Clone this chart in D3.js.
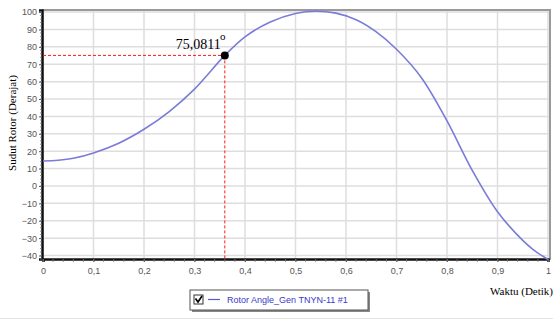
<!DOCTYPE html>
<html><head><meta charset="utf-8">
<script src="https://cdn.jsdelivr.net/npm/d3@7"></script>
<style>body{margin:0;background:#fff}svg{display:block}</style>
</head><body>
<script>
const timeValues = [0, 0.03, 0.06, 0.1, 0.15, 0.2, 0.25, 0.3, 0.36, 0.4, 0.45, 0.5, 0.54, 0.58, 0.62, 0.66, 0.7, 0.75, 0.8, 0.85, 0.9, 0.95, 0.97, 1.0];
const angleValues = [14.4, 14.8, 15.9, 19.0, 24.6, 32.6, 42.8, 55.7, 75.08, 85.8, 94.3, 99.2, 100.5, 99.4, 95.6, 88.6, 78.6, 62.0, 37.4, 9.0, -14.8, -31.3, -36.4, -42.3];
const xTicks = [0, 0.1, 0.2, 0.3, 0.4, 0.5, 0.6, 0.7, 0.8, 0.9, 1];
const yTicks = [-40, -30, -20, -10, 0, 10, 20, 30, 40, 50, 60, 70, 80, 90, 100];
const markerT = [0.36];
const markerV = [75.0811];
const markerLabel = ["75,0811"];
const seriesName = ["Rotor Angle_Gen TNYN-11 #1"];

const W = 553, H = 320;
const svg = d3.select("body").append("svg").attr("width", W).attr("height", H);
const x = d3.scaleLinear().domain([0, 1]).range([43, 548]);
const y = d3.scaleLinear().domain([-42, 101.2]).range([259, 10]);
const fmt = d => d === 0 ? "0" : (d === 1 ? "1" : String(d).replace(".", ","));

// grid
svg.append("g").selectAll("line").data(yTicks).join("line")
  .attr("x1", 43).attr("x2", 550).attr("y1", d => y(d)).attr("y2", d => y(d))
  .attr("stroke", "#dedede").attr("stroke-width", 1.5);
svg.append("g").selectAll("line").data(xTicks).join("line")
  .attr("x1", d => x(d)).attr("x2", d => x(d)).attr("y1", 10).attr("y2", 259)
  .attr("stroke", "#dedede").attr("stroke-width", 1.5);

// frame (top/right)
svg.append("line").attr("x1", 42).attr("x2", 551).attr("y1", 10).attr("y2", 10).attr("stroke", "#9a9a9a").attr("stroke-width", 2);
svg.append("line").attr("x1", 550).attr("x2", 550).attr("y1", 10).attr("y2", 260).attr("stroke", "#9a9a9a").attr("stroke-width", 2);

// axes
const yAxis = d3.axisLeft(y).tickValues(yTicks).tickSize(3).tickFormat(d3.format("d"));
const gy = svg.append("g").attr("transform", "translate(42,0)").call(yAxis);
gy.select(".domain").attr("stroke", "#111").attr("stroke-width", 2.5);
gy.selectAll(".tick line").attr("stroke", "#555");
gy.selectAll("text").attr("font-family", "Liberation Sans, Arial, sans-serif").attr("font-size", 9).attr("fill", "#555").attr("x", -5);
const yMinor = d3.range(-42, 101, 2);
svg.append("g").selectAll("line").data(yMinor).join("line")
  .attr("x1", 40).attr("x2", 42).attr("y1", d => y(d)).attr("y2", d => y(d)).attr("stroke", "#777").attr("stroke-width", 0.8);

const xAxis = d3.axisBottom(x).tickValues(xTicks).tickSize(3).tickFormat(fmt);
const gx = svg.append("g").attr("transform", "translate(0,259)").call(xAxis);
gx.select(".domain").attr("stroke", "#111").attr("stroke-width", 2.5);
gx.selectAll(".tick line").attr("stroke", "#555");
gx.selectAll("text").attr("font-family", "Liberation Sans, Arial, sans-serif").attr("font-size", 9).attr("fill", "#555").attr("y", 9);
const xMinor = d3.range(0, 1.0001, 0.02);
svg.append("g").selectAll("line").data(xMinor).join("line")
  .attr("x1", d => x(d)).attr("x2", d => x(d)).attr("y1", 259).attr("y2", 262).attr("stroke", "#777").attr("stroke-width", 0.8);

// curve
const data = timeValues.map((t, i) => ({t, v: angleValues[i]}));
svg.append("path").datum(data)
  .attr("d", d3.line().x(d => x(d.t)).y(d => y(d.v)).curve(d3.curveCatmullRom.alpha(0.5)))
  .attr("fill", "none").attr("stroke", "#7b7bd8").attr("stroke-width", 1.6);

// marker
markerT.forEach((t, i) => {
  const px = x(t), py = y(markerV[i]);
  svg.append("line").attr("x1", 43).attr("x2", px).attr("y1", py).attr("y2", py)
    .attr("stroke", "#ff1a1a").attr("stroke-width", 1).attr("stroke-dasharray", "3,2");
  svg.append("line").attr("x1", px).attr("x2", px).attr("y1", py).attr("y2", 258)
    .attr("stroke", "#ff1a1a").attr("stroke-width", 1).attr("stroke-dasharray", "3,2");
  svg.append("circle").attr("cx", px).attr("cy", py).attr("r", 4).attr("fill", "#000");
  svg.append("text").attr("x", px - 4).attr("y", py - 6).attr("text-anchor", "end")
    .attr("font-family", "Liberation Serif, Times New Roman, serif").attr("font-size", 14).attr("fill", "#000").text(markerLabel[i]);
  svg.append("text").attr("x", px - 2).attr("y", py - 15.5).attr("text-anchor", "middle")
    .attr("font-family", "Liberation Serif, Times New Roman, serif").attr("font-size", 11).attr("fill", "#000").text("o");
});

// axis titles
svg.append("text").attr("transform", "translate(16,123) rotate(-90)").attr("text-anchor", "middle")
  .attr("font-family", "Liberation Serif, Times New Roman, serif").attr("font-size", 11).text("Sudut Rotor (Derajat)");
svg.append("text").attr("x", 553).attr("y", 295).attr("text-anchor", "end")
  .attr("font-family", "Liberation Serif, Times New Roman, serif").attr("font-size", 11).text("Waktu (Detik)");

// legend
const lg = svg.append("g");
lg.append("rect").attr("x", 192).attr("y", 292).attr("width", 178).attr("height", 20).attr("fill", "#888");
lg.append("rect").attr("x", 190).attr("y", 290).attr("width", 178).attr("height", 20).attr("fill", "#fff").attr("stroke", "#555").attr("stroke-width", 1);
lg.append("rect").attr("x", 194).attr("y", 295).attr("width", 9).attr("height", 9).attr("fill", "#fff").attr("stroke", "#333");
lg.append("path").attr("d", "M195.5,298.5 L198,302 L202,296").attr("fill", "none").attr("stroke", "#000").attr("stroke-width", 1.6);
lg.append("line").attr("x1", 208).attr("x2", 220).attr("y1", 299.5).attr("y2", 299.5).attr("stroke", "#5a5ad0").attr("stroke-width", 1.2);
lg.append("text").attr("x", 227).attr("y", 303).attr("font-family", "Liberation Sans, Arial, sans-serif").attr("font-size", 9).attr("fill", "#3a3ac8").text(seriesName[0]);

svg.append("line").attr("x1", 0).attr("x2", 553).attr("y1", 318.5).attr("y2", 318.5).attr("stroke", "#e4e4e4");
</script>
</body></html>
